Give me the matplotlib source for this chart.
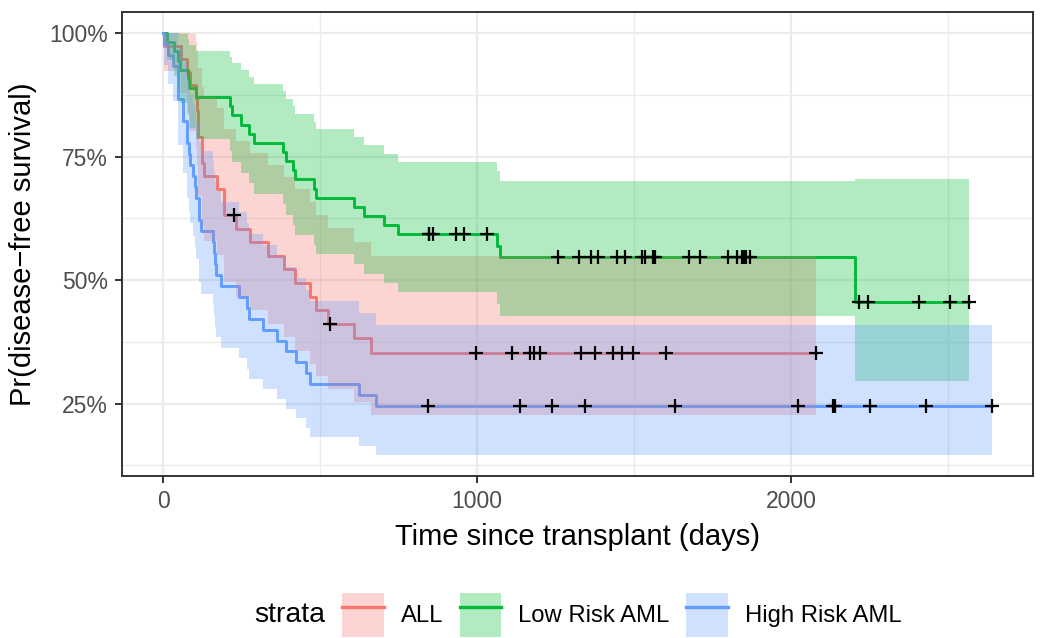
import numpy as np
import matplotlib
matplotlib.use("Agg")
import matplotlib.pyplot as plt
from matplotlib.patches import Patch
from matplotlib.lines import Line2D
from matplotlib.ticker import PercentFormatter, MultipleLocator, FixedLocator

plt.rcParams['font.family'] = ['Liberation Sans', 'DejaVu Sans']

# disease-free survival times (days) and status (1 = relapse/death, 0 = censored)
all_time = [2081, 1602, 1496, 1462, 1433, 1377, 1330, 996, 226, 1199, 1111, 530, 1182, 1167,
            418, 383, 276, 104, 609, 172, 487, 662, 194, 230, 526, 122, 129, 74, 122, 86,
            466, 192, 109, 55, 1, 107, 110, 332]
all_event = [0] * 14 + [1] * 24

low_time = [2569, 2506, 2409, 2218, 1857, 1829, 1562, 1470, 1363, 1030, 860, 1258, 2246, 1870,
            1799, 1709, 1674, 1568, 1527, 1324, 957, 932, 847, 848, 1850, 1843, 1535, 1447, 1384,
            414, 2204, 1063, 481, 105, 641, 390, 288, 421, 79, 748, 486, 48, 272, 1074, 381,
            10, 53, 80, 35, 248, 704, 211, 219, 606]
low_event = [0] * 29 + [1] * 25

high_time = [2640, 2430, 2252, 2140, 2133, 1238, 1631, 2024, 1345, 1136, 845,
             422, 162, 84, 100, 2, 47, 242, 456, 268, 318, 32, 467, 47, 390, 183, 105, 115,
             164, 93, 120, 80, 677, 64, 168, 74, 16, 157, 625, 48, 273, 63, 76, 113, 363]
high_event = [0] * 11 + [1] * 34

strata = ['ALL', 'Low Risk AML', 'High Risk AML']
colors = ['#F8766D', '#00BA38', '#619CFF']


def km(time, event):
    time = np.asarray(time, float)
    event = np.asarray(event, int)
    ts = np.unique(time)
    s, v = 1.0, 0.0
    out_t, out_s, out_lo, out_hi, cens_t, cens_s = [0.0], [1.0], [1.0], [1.0], [], []
    for t in ts:
        n = np.sum(time >= t)
        d = np.sum((time == t) & (event == 1))
        c = np.sum((time == t) & (event == 0))
        if d > 0:
            s *= (n - d) / n
            v += d / (n * (n - d))
        se = np.sqrt(v)
        out_t.append(t)
        out_s.append(s)
        out_lo.append(s * np.exp(-1.96 * se))
        out_hi.append(min(1.0, s * np.exp(1.96 * se)))
        if c > 0:
            cens_t.append(t)
            cens_s.append(s)
    return (np.array(out_t), np.array(out_s), np.array(out_lo), np.array(out_hi),
            np.array(cens_t), np.array(cens_s))


fits = [km(all_time, all_event), km(low_time, low_event), km(high_time, high_event)]

fig = plt.figure(figsize=(10.4, 6.38), dpi=100)
ax = fig.add_axes([122 / 1040, 1 - 476 / 638, (1033 - 122) / 1040, (476 - 12) / 638])

# lines first, then ribbons on top (like the ggplot layers), then censor marks
for fit, col in zip(fits, colors):
    ax.step(fit[0], fit[1], where='post', color=col, lw=2.1, zorder=2)
for fit, col in zip(fits, colors):
    ax.fill_between(fit[0], fit[2], fit[3], step='post', color=col, alpha=0.3, lw=0, zorder=3)
for fit in fits:
    ax.plot(fit[4], fit[5], ls='none', marker='+', color='black', ms=10, mew=1.6, zorder=4)

xmax = max(f[0].max() for f in fits)
ymin = min(f[2].min() for f in fits)
ax.set_xlim(-0.05 * xmax, 1.05 * xmax)
pad = 0.05 * (1 - ymin)
ax.set_ylim(ymin - pad, 1 + pad)

ax.xaxis.set_major_locator(MultipleLocator(1000))
ax.xaxis.set_minor_locator(FixedLocator([500, 1500, 2500]))
ax.yaxis.set_major_locator(FixedLocator([0.25, 0.5, 0.75, 1.0]))
ax.yaxis.set_minor_locator(FixedLocator([0.125, 0.375, 0.625, 0.875]))
ax.yaxis.set_major_formatter(PercentFormatter(1.0, decimals=0))

ax.grid(which='major', color='#EBEBEB', lw=1.6, zorder=0)
ax.grid(which='minor', color='#EBEBEB', lw=1.0, zorder=0)
ax.set_axisbelow(True)
for sp in ax.spines.values():
    sp.set_color('#333333')
    sp.set_linewidth(1.4)
ax.tick_params(which='major', length=5, width=1.4, color='#333333', labelcolor='#4D4D4D',
               labelsize=16.5, pad=5)
ax.tick_params(which='minor', length=0)

ax.set_xlabel('Time since transplant (days)', fontsize=21, labelpad=7)
ax.set_ylabel('Pr(disease\u2212free survival)', fontsize=21, labelpad=9)

handles = [(Patch(facecolor=c, alpha=0.3, lw=0), Line2D([], [], color=c, lw=2.4)) for c in colors]
fig.legend(handles, strata, loc='center left', bbox_to_anchor=(330 / 1040, 1 - 615 / 638),
           ncol=3, frameon=False, borderpad=0, fontsize=17.2, handlelength=1.75,
           handleheight=2.5, handletextpad=0.7, columnspacing=0.7)
fig.text(254 / 1040, 1 - 615 / 638, 'strata', fontsize=20.5, va='center', ha='left')

fig.savefig('out.png', dpi=100)
